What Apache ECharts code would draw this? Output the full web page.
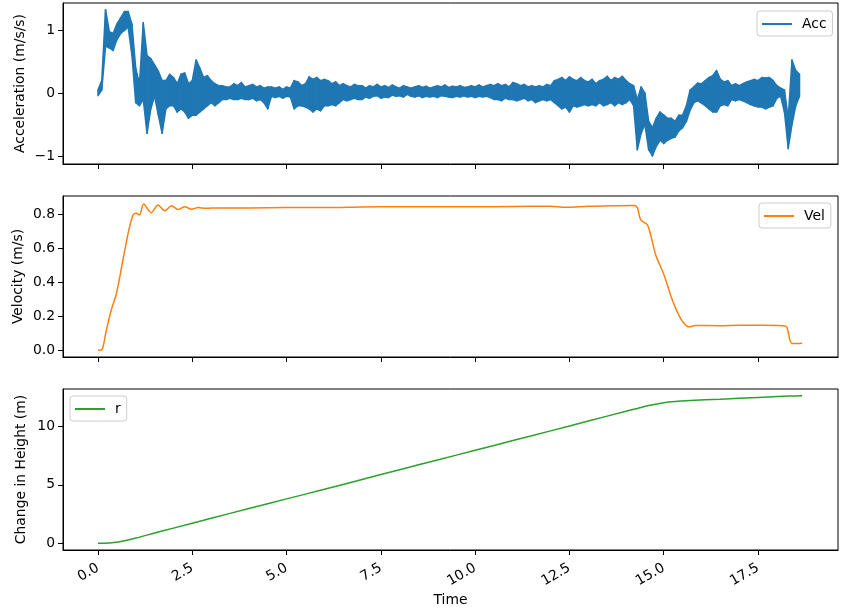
<!DOCTYPE html>
<html><head><meta charset="utf-8">
<script src="https://cdn.jsdelivr.net/npm/echarts@6/dist/echarts.min.js"></script>
<style>html,body{margin:0;padding:0;background:#fff}#c{width:849px;height:616px}</style>
</head><body><div id="c"></div>
<script>
// Acceleration: upper / lower envelope read every 0.1 s (t = 0 .. 18.6)
const DT = 0.1;
const accHi = [
  0.05, 0.2, 1.33, 0.98, 0.95, 1.1, 1.2, 1.3, 1.3, 1.1,
  0.4, 0.15, 1.12, 0.6, 0.55, 0.45, 0.35, 0.2, 0.2, 0.3,
  0.25, 0.15, 0.3, 0.32, 0.15, 0.2, 0.53, 0.4, 0.25, 0.28,
  0.2, 0.15, 0.12, 0.12, 0.1, 0.1, 0.15, 0.12, 0.17, 0.1,
  0.12, 0.14, 0.1, 0.12, 0.08, 0.1, 0.1, 0.08, 0.1, 0.06,
  0.1, 0.08, 0.2, 0.18, 0.12, 0.15, 0.26, 0.22, 0.25, 0.2,
  0.22, 0.2, 0.15, 0.18, 0.12, 0.15, 0.12, 0.1, 0.14, 0.12,
  0.12, 0.08, 0.12, 0.1, 0.14, 0.1, 0.12, 0.09, 0.13, 0.1,
  0.08, 0.12, 0.1, 0.08, 0.1, 0.12, 0.09, 0.11, 0.08, 0.1,
  0.12, 0.1, 0.13, 0.09, 0.11, 0.1, 0.12, 0.09, 0.1, 0.12,
  0.1, 0.13, 0.1, 0.12, 0.14, 0.12, 0.15, 0.12, 0.14, 0.1,
  0.17, 0.15, 0.12, 0.14, 0.1, 0.12, 0.1, 0.12, 0.1, 0.14,
  0.12, 0.2, 0.22, 0.25, 0.2, 0.26, 0.22, 0.2, 0.25, 0.2,
  0.18, 0.22, 0.15, 0.2, 0.22, 0.27, 0.2, 0.25, 0.22, 0.27,
  0.2, 0.15, 0.12, -0.1, 0.1, 0.0, -0.45, -0.55, -0.4, -0.3,
  -0.35, -0.4, -0.4, -0.45, -0.35, -0.35, -0.2, 0.05, 0.1, 0.16,
  0.15, 0.2, 0.25, 0.28, 0.36, 0.22, 0.18, 0.2, 0.12, 0.15,
  0.12, 0.15, 0.18, 0.2, 0.22, 0.2, 0.25, 0.24, 0.25, 0.2,
  0.12, 0.08, 0.05, -0.4, 0.53, 0.36, 0.3
];
const accLo = [
  -0.04, 0.05, 0.75, 0.72, 0.68, 0.85, 0.95, 1.0, 1.05, 0.6,
  -0.15, -0.2, -0.1, -0.64, -0.25, -0.05, -0.35, -0.64, -0.25, -0.2,
  -0.2, -0.3, -0.25, -0.3, -0.4, -0.35, -0.35, -0.3, -0.25, -0.2,
  -0.15, -0.2, -0.15, -0.1, -0.1, -0.08, -0.1, -0.1, -0.08, -0.1,
  -0.1, -0.08, -0.12, -0.1, -0.15, -0.25, -0.05, -0.07, -0.05, -0.08,
  -0.05, -0.06, -0.25, -0.2, -0.2, -0.22, -0.25, -0.3, -0.25, -0.28,
  -0.2, -0.2, -0.18, -0.2, -0.15, -0.1, -0.12, -0.1, -0.08, -0.1,
  -0.1, -0.06, -0.08, -0.05, -0.04, -0.08, -0.06, -0.07, -0.03, -0.05,
  -0.04, -0.06, -0.02, -0.05, -0.06, -0.04, -0.07, -0.05, -0.06, -0.05,
  -0.07, -0.04, -0.05, -0.06, -0.07, -0.05, -0.06, -0.04, -0.06, -0.05,
  -0.07, -0.05, -0.06, -0.05, -0.07, -0.1, -0.1, -0.12, -0.08, -0.1,
  -0.1, -0.12, -0.1, -0.08, -0.12, -0.1, -0.15, -0.12, -0.1, -0.12,
  -0.1, -0.15, -0.2, -0.25, -0.22, -0.3, -0.2, -0.22, -0.2, -0.18,
  -0.2, -0.18, -0.2, -0.15, -0.2, -0.18, -0.15, -0.2, -0.15, -0.18,
  -0.15, -0.1, -0.2, -0.9, -0.64, -0.5, -0.9, -1.0, -0.85, -0.75,
  -0.8, -0.75, -0.72, -0.7, -0.6, -0.55, -0.45, -0.27, -0.15, -0.12,
  -0.16, -0.2, -0.25, -0.3, -0.3, -0.2, -0.18, -0.2, -0.1, -0.12,
  -0.1, -0.12, -0.15, -0.18, -0.2, -0.22, -0.22, -0.25, -0.22, -0.2,
  -0.08, -0.05, -0.3, -0.88, -0.5, -0.2, -0.05
];

// Velocity
const velT = [0, 0.1, 0.22, 0.35, 0.49, 0.66, 0.8, 0.93, 1.02, 1.1, 1.21, 1.41, 1.59, 1.77, 1.95, 2.12, 2.3, 2.48, 2.66, 2.85, 3.2, 4.0, 5.0, 6.0, 7.0, 8.0, 9.0, 10.0, 11.0, 12.0, 12.4, 13.0, 13.6, 14.2, 14.3, 14.39, 14.57, 14.79, 15.01, 15.23, 15.45, 15.67, 15.84, 16.5, 17.0, 17.6, 18.15, 18.26, 18.4, 18.67];
const velV = [0, 0.003, 0.118, 0.236, 0.336, 0.53, 0.69, 0.796, 0.806, 0.796, 0.861, 0.81, 0.855, 0.821, 0.85, 0.829, 0.845, 0.83, 0.84, 0.836, 0.838, 0.838, 0.84, 0.84, 0.843, 0.845, 0.845, 0.845, 0.846, 0.848, 0.842, 0.848, 0.85, 0.852, 0.84, 0.767, 0.737, 0.56, 0.442, 0.295, 0.187, 0.138, 0.146, 0.145, 0.147, 0.147, 0.145, 0.138, 0.04, 0.042];

// Change in height
const hT = [0, 0.5, 1.0, 1.5, 2.0, 3.0, 4.0, 5.0, 6.0, 7.0, 8.0, 9.0, 10.0, 11.0, 12.0, 13.0, 14.0, 14.3, 14.6, 15.0, 15.3, 15.7, 16.5, 17.5, 18.3, 18.67];
const hV = [0, 0.1, 0.45, 0.88, 1.3, 2.14, 2.98, 3.8, 4.62, 5.46, 6.3, 7.13, 7.96, 8.79, 9.62, 10.46, 11.3, 11.54, 11.78, 12.03, 12.14, 12.22, 12.33, 12.48, 12.6, 12.63];

// Ticks
const xTicks = [0, 2.5, 5, 7.5, 10, 12.5, 15, 17.5];
const accTicks = [-1, 0, 1];
const velTicks = [0, 0.2, 0.4, 0.6, 0.8];
const hTicks = [0, 5, 10];

const FONT = 'DejaVu Sans';
const C = ['#1f77b4', '#ff7f0e', '#2ca02c'];

const accData = accHi.map((v, i) => [i * DT, v, accLo[i]]);
const velData = velT.map((t, i) => [t, velV[i]]);
const hData = hT.map((t, i) => [t, hV[i]]);

const fmtY = v => (v < 0 ? '\u2212' + Math.abs(v) : String(v));

function xAx(idx, showLabels) {
  return {
    type: 'value', gridIndex: idx, min: -0.928, max: 19.62,
    splitLine: { show: false },
    axisLine: { show: true, onZero: false, lineStyle: { color: '#000', width: 1 } },
    axisTick: { show: true, length: 5, customValues: xTicks, lineStyle: { color: '#000' } },
    axisLabel: { show: showLabels, customValues: xTicks, rotate: 30, margin: 17, color: '#000', fontFamily: FONT, fontSize: 13.9,
      formatter: v => v.toFixed(1) },
    name: showLabels ? 'Time' : '', nameLocation: 'middle', nameGap: 43, nameMoveOverlap: false,
    nameTextStyle: { color: '#000', fontFamily: FONT, fontSize: 13.9 }
  };
}
function yAx(idx, min, max, ticks, fmt, name, gap) {
  return {
    type: 'value', gridIndex: idx, min: min, max: max,
    splitLine: { show: false },
    axisLine: { show: true, onZero: false, lineStyle: { color: '#000', width: 1 } },
    axisTick: { show: true, length: 5, customValues: ticks, lineStyle: { color: '#000' } },
    axisLabel: { customValues: ticks, margin: 8, color: '#000', fontFamily: FONT, fontSize: 13.9, formatter: fmt },
    name: name, nameLocation: 'middle', nameGap: gap, nameMoveOverlap: false,
    nameTextStyle: { color: '#000', fontFamily: FONT, fontSize: 13.9 }
  };
}
function leg(name, left, top) {
  return {
    data: [name], left: left, top: top, orient: 'horizontal',
    icon: 'rect', itemWidth: 30, itemHeight: 2,
    padding: [6, 6, 5, 5],
    borderColor: '#cccccc', borderWidth: 1, borderRadius: 3,
    backgroundColor: 'rgba(255,255,255,0.8)',
    textStyle: { color: '#000', fontFamily: FONT, fontSize: 13.9, padding: [0, 0, 0, 5] },
    selectedMode: false
  };
}

// envelope band of the acceleration trace, one quad per sample interval
function renderAcc(params, api) {
  const i = params.dataIndex;
  if (i >= accData.length - 1) return null;
  const a = accData[i], b = accData[i + 1];
  const pts = [
    api.coord([a[0], a[1]]), api.coord([b[0], b[1]]),
    api.coord([b[0], b[2]]), api.coord([a[0], a[2]])
  ];
  return {
    type: 'polygon', shape: { points: pts },
    style: { fill: C[0], stroke: C[0], lineWidth: 1.5, lineJoin: 'round' }
  };
}

const chart = echarts.init(document.getElementById('c'), null, { renderer: 'canvas' });
chart.setOption({
  animation: false,
  backgroundColor: '#fff',
  grid: [
    { left: 63, top: 3, width: 775, height: 161, show: true, borderColor: '#000', borderWidth: 1, containLabel: false },
    { left: 63, top: 196, width: 775, height: 161, show: true, borderColor: '#000', borderWidth: 1, containLabel: false },
    { left: 63, top: 389, width: 775, height: 161, show: true, borderColor: '#000', borderWidth: 1, containLabel: false }
  ],
  xAxis: [xAx(0, false), xAx(1, false), xAx(2, true)],
  yAxis: [
    yAx(0, -1.128, 1.436, accTicks, fmtY, 'Acceleration (m/s/s)', 36),
    yAx(1, -0.0393, 0.908, velTicks, v => v.toFixed(1), 'Velocity (m/s)', 38),
    yAx(2, -0.571, 13.2, hTicks, fmtY, 'Change in Height (m)', 35)
  ],
  legend: [leg('Acc', 757, 11), leg('Vel', 759, 203), leg('r', 70, 396)],
  series: [
    { name: 'Acc', type: 'custom', xAxisIndex: 0, yAxisIndex: 0, data: accData,
      encode: { x: 0, y: [1, 2] }, itemStyle: { color: C[0] }, color: C[0], renderItem: renderAcc },
    { name: 'Vel', type: 'line', xAxisIndex: 1, yAxisIndex: 1, data: velData, showSymbol: false, symbol: 'none',
      smooth: 0.3, color: C[1], lineStyle: { color: C[1], width: 1.5 } },
    { name: 'r', type: 'line', xAxisIndex: 2, yAxisIndex: 2, data: hData, showSymbol: false, symbol: 'none',
      smooth: 0.3, color: C[2], lineStyle: { color: C[2], width: 1.5 } }
  ]
});
</script>
</body></html>
